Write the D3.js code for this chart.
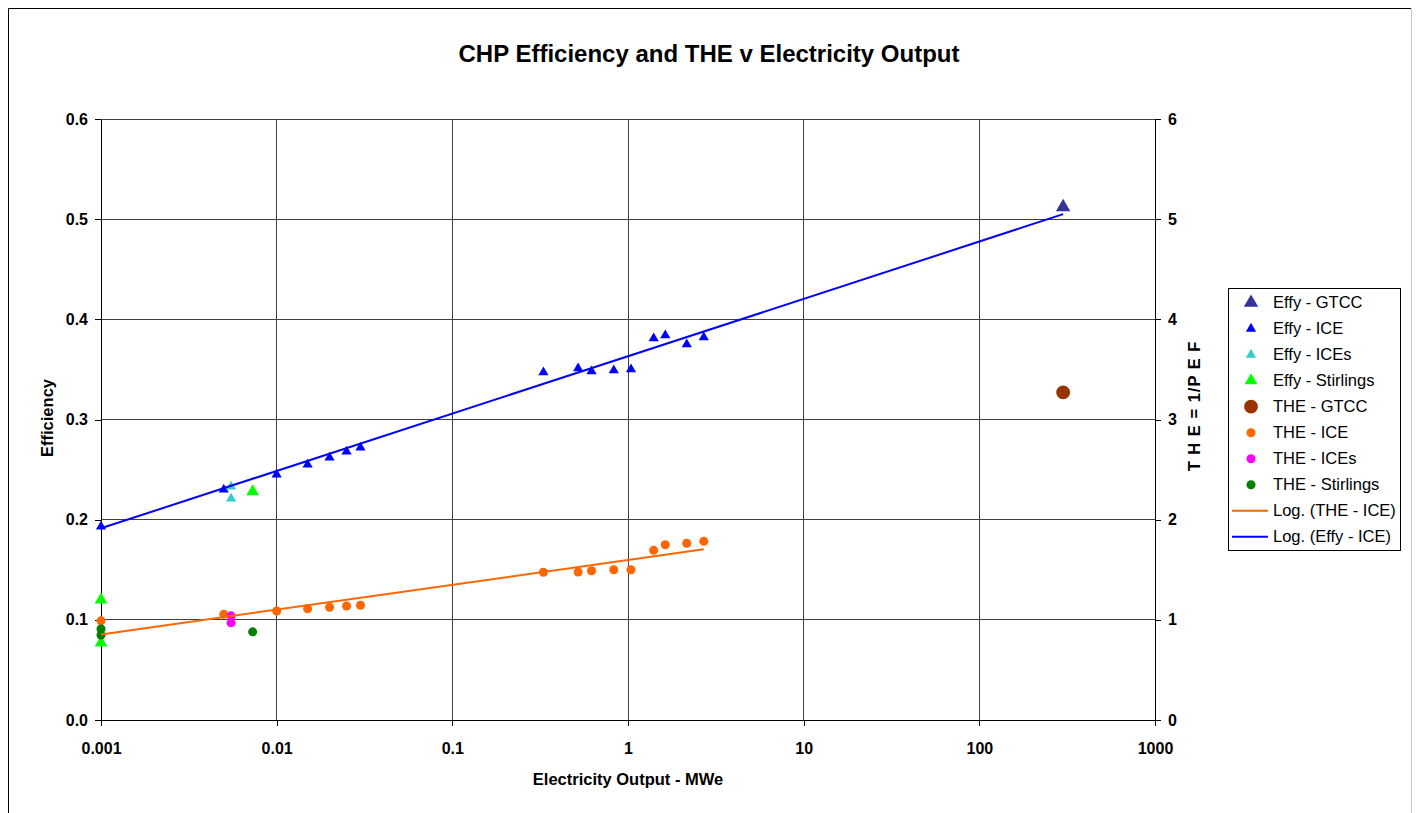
<!DOCTYPE html>
<html>
<head>
<meta charset="utf-8">
<script src="https://cdn.jsdelivr.net/npm/d3@7"></script>
<style>
  body { margin: 0; background: #fff; }
  text { font-family: Arial, "Liberation Sans", sans-serif; fill: #000; }
</style>
</head>
<body>
<svg id="chart"></svg>
<script>
// CHP Efficiency and THE v Electricity Output
// values (x in MWe, Effy on left axis, THE on right axis)
const gtccX = [300];
const effyGtcc = [0.512];
const theGtcc = [3.27];

const iceX = [0.001, 0.005, 0.01, 0.015, 0.02, 0.025, 0.03, 0.33, 0.52, 0.62, 0.83, 1.04, 1.4, 1.63, 2.16, 2.7];
const effyIce = [0.193, 0.23, 0.245, 0.255, 0.262, 0.268, 0.272, 0.347, 0.351, 0.348, 0.349, 0.350, 0.381, 0.384, 0.375, 0.382];
const theIce = [0.99, 1.055, 1.088, 1.11, 1.125, 1.138, 1.145, 1.475, 1.478, 1.49, 1.50, 1.50, 1.694, 1.75, 1.764, 1.784];

const icesX = [0.0055, 0.0055];
const effyIces = [0.233, 0.221];
const theIces = [1.04, 0.97];

const stirX = [0.001, 0.001, 0.0073];
const effyStir = [0.12, 0.077, 0.228];
const theStirX = [0.001, 0.001, 0.0073];
const theStir = [0.908, 0.849, 0.88];

// Log. trendlines (end points)
const effyTrendX = [0.001, 300];
const effyTrendY = [0.1914, 0.505];
const theTrendX = [0.001, 2.7];
const theTrendY = [0.854, 1.704];

const xTicks = [0.001, 0.01, 0.1, 1, 10, 100, 1000];
const yLeftTicks = [0, 0.1, 0.2, 0.3, 0.4, 0.5, 0.6];
const yRightTicks = [0, 1, 2, 3, 4, 5, 6];

const legendNames = ["Effy - GTCC", "Effy - ICE", "Effy - ICEs", "Effy - Stirlings",
    "THE - GTCC", "THE - ICE", "THE - ICEs", "THE - Stirlings",
    "Log. (THE - ICE)", "Log. (Effy - ICE)"];

const width = 1416, height = 813;

const svg = d3.select("#chart")
    .attr("width", width)
    .attr("height", height);

svg.append("rect").attr("width", width).attr("height", height).attr("fill", "#fff");

// outer frame
svg.append("path").attr("d", "M8.5,813V8.5H1411").attr("fill", "none").attr("stroke", "#000");
svg.append("path").attr("d", "M1411.5,8.5V813").attr("fill", "none").attr("stroke", "#c8c8c8");

const x = d3.scaleLog().domain([0.001, 1000]).range([101, 1155]);
const yL = d3.scaleLinear().domain([0, 0.6]).range([720, 119]);
const yR = d3.scaleLinear().domain([0, 6]).range([720, 119]);

// grid
const grid = svg.append("g").attr("stroke", "#404040").attr("stroke-width", 1).attr("shape-rendering", "crispEdges");
grid.selectAll(".gx")
    .data(xTicks)
    .enter()
    .append("line")
    .attr("x1", d => x(d)).attr("x2", d => x(d))
    .attr("y1", yL(0.6)).attr("y2", yL(0));
grid.selectAll(".gy")
    .data(yLeftTicks)
    .enter()
    .append("line")
    .attr("x1", x(0.001)).attr("x2", x(1000))
    .attr("y1", d => yL(d)).attr("y2", d => yL(d));

// axes
const axisFont = g => g.selectAll("text")
    .style("font-family", "Arial, 'Liberation Sans', sans-serif")
    .style("font-size", "16px")
    .style("font-weight", "bold")
    .attr("fill", "#000");

svg.append("g")
    .attr("transform", `translate(0,${yL(0)})`)
    .call(d3.axisBottom(x).tickValues(xTicks).tickFormat(d3.format("~g")).tickSizeInner(6).tickSizeOuter(0).tickPadding(17))
    .call(axisFont)
    .call(g => g.selectAll("line,path").attr("stroke", "#000").attr("shape-rendering", "crispEdges"));

svg.append("g")
    .attr("transform", `translate(${x(0.001)},0)`)
    .call(d3.axisLeft(yL).tickValues(yLeftTicks).tickFormat(d3.format(".1f")).tickSizeInner(6).tickSizeOuter(0).tickPadding(7))
    .call(axisFont)
    .call(g => g.selectAll("line,path").attr("stroke", "#000").attr("shape-rendering", "crispEdges"));

svg.append("g")
    .attr("transform", `translate(${x(1000)},0)`)
    .call(d3.axisRight(yR).tickValues(yRightTicks).tickFormat(d3.format("d")).tickSizeInner(6).tickSizeOuter(0).tickPadding(7))
    .call(axisFont)
    .call(g => g.selectAll("line,path").attr("stroke", "#000").attr("shape-rendering", "crispEdges"));

// titles
svg.append("text")
    .attr("x", 709).attr("y", 62)
    .attr("text-anchor", "middle")
    .style("font-size", "24px").style("font-weight", "bold")
    .text("CHP Efficiency and THE v Electricity Output");

svg.append("text")
    .attr("x", 628).attr("y", 785)
    .attr("text-anchor", "middle")
    .style("font-size", "16.5px").style("font-weight", "bold")
    .text("Electricity Output - MWe");

svg.append("text")
    .attr("transform", "translate(53,418) rotate(-90)")
    .attr("text-anchor", "middle")
    .style("font-size", "16.5px").style("font-weight", "bold")
    .text("Efficiency");

svg.append("text")
    .attr("transform", "translate(1200,406) rotate(-90)")
    .attr("text-anchor", "middle")
    .style("font-size", "16.5px").style("font-weight", "bold")
    .style("letter-spacing", "1px")
    .text("T H E = 1/P E F");

// series
const series = [
    { name: legendNames[0], xs: gtccX, ys: effyGtcc, y: yL, shape: d3.symbolTriangle, size: 90, color: "#333399" },
    { name: legendNames[1], xs: iceX, ys: effyIce, y: yL, shape: d3.symbolTriangle, size: 45, color: "#0000ff" },
    { name: legendNames[2], xs: icesX, ys: effyIces, y: yL, shape: d3.symbolTriangle, size: 45, color: "#33cccc" },
    { name: legendNames[3], xs: stirX, ys: effyStir, y: yL, shape: d3.symbolTriangle, size: 70, color: "#00ff00" },
    { name: legendNames[4], xs: gtccX, ys: theGtcc, y: yR, shape: d3.symbolCircle, size: 150, color: "#993300" },
    { name: legendNames[5], xs: iceX, ys: theIce, y: yR, shape: d3.symbolCircle, size: 64, color: "#ff6600" },
    { name: legendNames[6], xs: icesX, ys: theIces, y: yR, shape: d3.symbolCircle, size: 64, color: "#ff00ff" },
    { name: legendNames[7], xs: theStirX, ys: theStir, y: yR, shape: d3.symbolCircle, size: 64, color: "#008000" }
];

series.forEach(s => {
    svg.append("g")
        .selectAll("path")
        .data(s.xs.map((v, i) => [v, s.ys[i]]))
        .enter()
        .append("path")
        .attr("d", d3.symbol(s.shape, s.size))
        .attr("transform", d => `translate(${x(d[0])},${s.y(d[1])})`)
        .attr("fill", s.color);
});

// trendlines
const trends = [
    { xs: theTrendX, ys: theTrendY, y: yR, color: "#ff6600" },
    { xs: effyTrendX, ys: effyTrendY, y: yL, color: "#0000ff" }
];
trends.forEach(t => {
    svg.append("path")
        .datum(t.xs.map((v, i) => [v, t.ys[i]]))
        .attr("d", d3.line().x(d => x(d[0])).y(d => t.y(d[1])))
        .attr("fill", "none")
        .attr("stroke", t.color)
        .attr("stroke-width", 2);
});

// legend
const legend = svg.append("g");
legend.append("rect")
    .attr("x", 1228.5).attr("y", 288.5)
    .attr("width", 172).attr("height", 262)
    .attr("fill", "#fff").attr("stroke", "#000");

const rowY = i => 302.7 + i * 26;
series.forEach((s, i) => {
    legend.append("path")
        .attr("d", d3.symbol(s.shape, s.size))
        .attr("transform", `translate(1251,${rowY(i)})`)
        .attr("fill", s.color);
});
trends.forEach((t, j) => {
    legend.append("line")
        .attr("x1", 1232).attr("x2", 1268)
        .attr("y1", rowY(8 + j)).attr("y2", rowY(8 + j))
        .attr("stroke", t.color).attr("stroke-width", 2);
});
legend.selectAll("text")
    .data(legendNames)
    .enter()
    .append("text")
    .attr("x", 1273)
    .attr("y", (d, i) => rowY(i))
    .attr("dy", "0.35em")
    .style("font-size", "16.5px")
    .text(d => d);
</script>
</body>
</html>
